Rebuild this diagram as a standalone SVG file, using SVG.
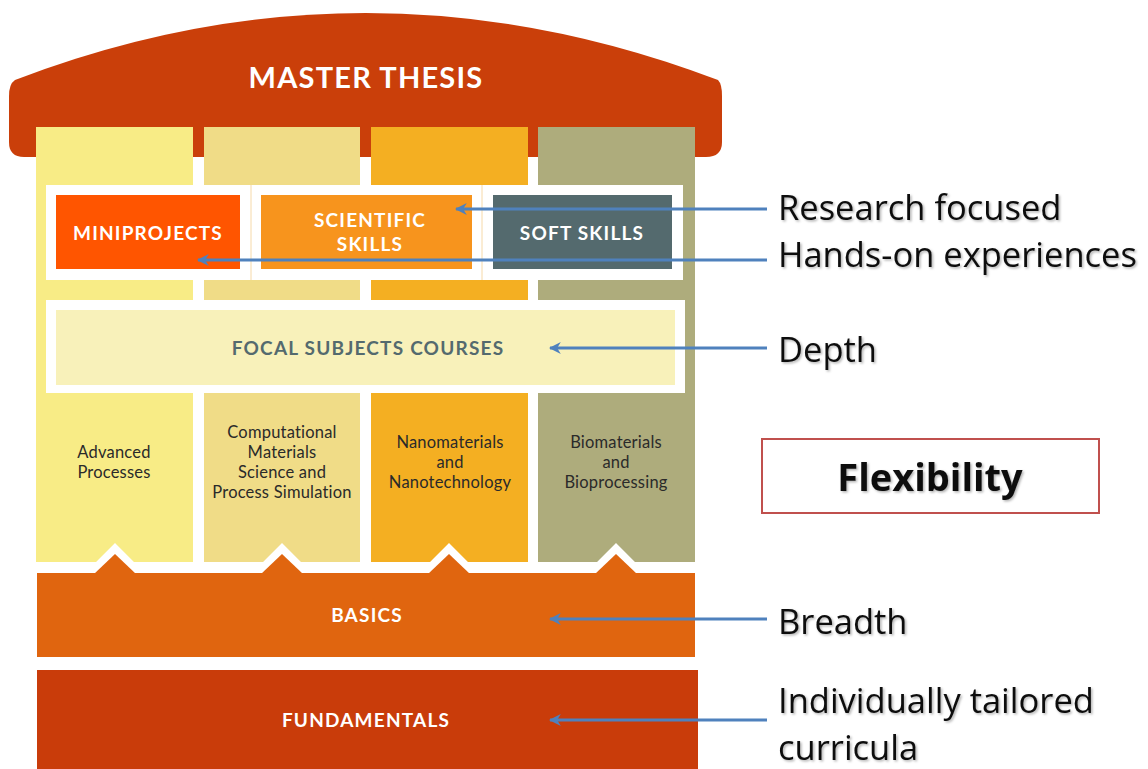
<svg xmlns="http://www.w3.org/2000/svg" width="1148" height="769" viewBox="0 0 1148 769">
<style>
.hd{font-family:Lato,"Liberation Sans",sans-serif;font-weight:700;fill:#fff;text-anchor:middle;letter-spacing:1.2px}
.cl{font-family:Lato,"Liberation Sans",sans-serif;font-size:16.5px;fill:#2a2a2a;text-anchor:middle;letter-spacing:0.2px}
.rt{font-family:"Open Sans","Liberation Sans",sans-serif;font-size:34.5px;fill:#111;filter:url(#sh)}
.ar{stroke:#4F81BD;stroke-width:3;fill:none;marker-end:url(#ah)}
</style>
<defs>
<marker id="ah" viewBox="0 0 10 10" refX="9" refY="5" markerWidth="4" markerHeight="4" orient="auto" markerUnits="strokeWidth">
<path d="M0,0 L10,5 L0,10 L3,5 Z" fill="#4F81BD"/>
</marker>
<filter id="sh" x="-5%" y="-20%" width="110%" height="150%">
<feDropShadow dx="1.5" dy="1.5" stdDeviation="1" flood-color="#000" flood-opacity="0.3"/>
</filter>
</defs>
<rect width="1148" height="769" fill="#fff"/>

<g id="master-thesis">
<path d="M15,80 Q365,-54 718,80 Q722,84 722,96 L722,142 Q722,157 706,157 L24,157 Q9,157 9,142 L9,96 Q9,84 15,80 Z" fill="#CA3F0A"/>
<text class="hd" x="366" y="88" font-size="29">MASTER THESIS</text>
</g>

<g id="columns">
<rect x="36" y="127" width="157" height="435" fill="#F8EC86"/>
<rect x="204" y="127" width="156" height="435" fill="#F0DC87"/>
<rect x="371" y="127" width="157" height="435" fill="#F4AF22"/>
<rect x="538" y="127" width="157" height="435" fill="#AEAC7C"/>
</g>

<g id="skills-band">
<rect x="46" y="185" width="637" height="95" fill="#fff"/>
<line x1="251" y1="185" x2="251" y2="280" stroke="#F6D9A8" stroke-width="1"/>
<line x1="482" y1="185" x2="482" y2="280" stroke="#F6D9A8" stroke-width="1"/>
</g>
<g id="miniprojects">
<rect x="56" y="195" width="184" height="74" fill="#FF5500"/>
<text class="hd" x="148" y="240" font-size="19">MINIPROJECTS</text>
</g>
<g id="scientific-skills">
<rect x="261" y="195" width="211" height="74" fill="#F7941D"/>
<text class="hd" x="370" y="227" font-size="19">SCIENTIFIC</text>
<text class="hd" x="370" y="251" font-size="19">SKILLS</text>
</g>
<g id="soft-skills">
<rect x="493" y="195" width="179" height="74" fill="#546A6E"/>
<text class="hd" x="582" y="240" font-size="19">SOFT SKILLS</text>
</g>

<g id="focal-subjects">
<rect x="46" y="300" width="639" height="93" fill="#fff"/>
<rect x="56" y="310" width="619" height="75" fill="#F8F1BA"/>
<text class="hd" x="368" y="355" font-size="19" style="fill:#546A6E">FOCAL SUBJECTS COURSES</text>
</g>

<g id="col-advanced">
<text class="cl" x="114" y="458">Advanced</text>
<text class="cl" x="114" y="478">Processes</text>
</g>
<g id="col-computational">
<text class="cl" x="282" y="438">Computational</text>
<text class="cl" x="282" y="458">Materials</text>
<text class="cl" x="282" y="478">Science and</text>
<text class="cl" x="282" y="498">Process Simulation</text>
</g>
<g id="col-nano">
<text class="cl" x="450" y="448">Nanomaterials</text>
<text class="cl" x="450" y="468">and</text>
<text class="cl" x="450" y="488">Nanotechnology</text>
</g>
<g id="col-bio">
<text class="cl" x="616" y="448">Biomaterials</text>
<text class="cl" x="616" y="468">and</text>
<text class="cl" x="616" y="488">Bioprocessing</text>
</g>

<g id="basics">
<g fill="#E0650F" stroke="#fff" stroke-width="14" stroke-linejoin="miter">
<polygon points="93,575 115,553 137,575"/>
<polygon points="260,575 282,553 304,575"/>
<polygon points="427,575 449,553 471,575"/>
<polygon points="594,575 616,553 638,575"/>
</g>
<rect x="37" y="573" width="658" height="84" fill="#E0650F"/>
<g fill="#E0650F">
<polygon points="94,574 115,554 136,574"/>
<polygon points="261,574 282,554 303,574"/>
<polygon points="428,574 449,554 470,574"/>
<polygon points="595,574 616,554 637,574"/>
</g>
<text class="hd" x="367" y="622" font-size="19">BASICS</text>
</g>

<g id="fundamentals">
<rect x="37" y="670" width="661" height="99" fill="#C93C0A"/>
<text class="hd" x="366" y="727" font-size="19">FUNDAMENTALS</text>
</g>

<g id="flexibility">
<rect x="762" y="439" width="337" height="74" fill="#fff" stroke="#C0504D" stroke-width="2"/>
<text x="930" y="491" text-anchor="middle" font-family="'Open Sans','Liberation Sans',sans-serif" font-weight="700" font-size="38" fill="#111" filter="url(#sh)">Flexibility</text>
</g>

<g id="labels">
<text class="rt" x="778" y="220">Research focused</text>
<text class="rt" x="778" y="267">Hands-on experiences</text>
<text class="rt" x="778" y="362">Depth</text>
<text class="rt" x="778" y="634">Breadth</text>
<text class="rt" x="778" y="713">Individually tailored</text>
<text class="rt" x="778" y="760">curricula</text>
</g>

<g id="connectors">
<line class="ar" x1="767" y1="209" x2="456" y2="209"/>
<line class="ar" x1="767" y1="260" x2="198" y2="260"/>
<line class="ar" x1="767" y1="348" x2="550" y2="348"/>
<line class="ar" x1="767" y1="619" x2="550" y2="619"/>
<line class="ar" x1="767" y1="720" x2="550" y2="720"/>
</g>
</svg>
